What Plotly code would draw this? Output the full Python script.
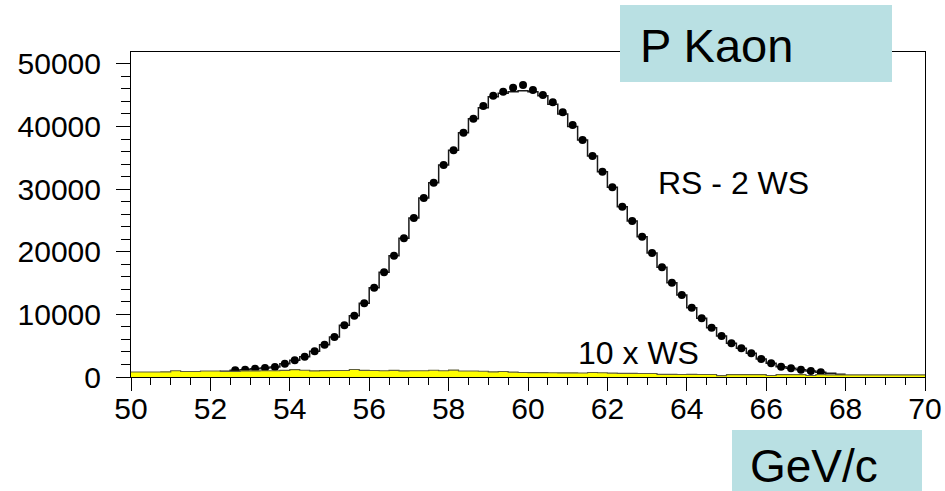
import numpy as np
import plotly.graph_objects as go

# ---- data -------------------------------------------------------------
bin_width = 0.25

# RS - 2 WS: measured points (bins from 52.5 to 67.5 GeV/c)
pts_start = 52.5
rs_points = [
    1065, 1170, 1330, 1440, 1600, 2130,
    2660, 3250, 4100, 5160, 6390, 8250, 9800, 11770,
    14270, 16720, 19380, 22150, 25390, 28590, 31040, 33860,
    36200, 39020, 41260, 43280, 44930, 45570, 46210, 46630,
    45830, 45040, 43870, 42270, 40240, 37850, 35290, 32790,
    30290, 27200, 24910, 22410, 19800, 17510, 15070, 13100,
    11070, 9370, 7880, 6550, 5380, 4580, 3780, 2880,
    2180, 1650, 1380, 1170, 960, 750,
]

# reference histogram drawn as a step line (bins from 52.0 to 68.0 GeV/c)
hist_start = 52.0
rs_hist = [
    700, 900, 1065, 1170, 1330, 1440, 1600, 2130,
    2660, 3250, 4100, 5160, 6390, 8250, 9800, 11770,
    14270, 16720, 19380, 22150, 25390, 28590, 31040, 33860,
    36200, 39020, 41260, 43000, 44770, 45300, 45570, 45730,
    45570, 44930, 43550, 42000, 40000, 37850, 35290, 32790,
    30290, 27200, 24910, 22410, 19800, 17510, 15070, 13100,
    11070, 9370, 7880, 6550, 5380, 4580, 3780, 2880,
    2180, 1650, 1380, 1170, 960, 750, 600, 450,
]

# 10 x WS (bins from 50.0 to 70.0 GeV/c)
ws_start = 50.0
ws10 = [
    800, 800, 800, 820, 1000, 880, 880, 960,
    960, 880, 900, 980, 980, 1000, 1000, 1050,
    1180, 1080, 980, 1020, 1040, 1040, 1200, 1060,
    1040, 1000, 1060, 980, 1000, 1000, 1080, 1000,
    1100, 960, 960, 920, 820, 880, 780, 720,
    700, 700, 680, 660, 660, 640, 720, 680,
    620, 580, 580, 560, 560, 420, 420, 400,
    420, 400, 400, 220, 380, 380, 380, 380,
    240, 380, 380, 380, 240, 380, 330, 330,
    330, 330, 330, 330, 330, 330, 330, 330,
]

x_ticks = [50, 52, 54, 56, 58, 60, 62, 64, 66, 68, 70]
y_ticks = [0, 10000, 20000, 30000, 40000, 50000]


def step_outline(start, values):
    """Bin edges and values for an 'hv' step line covering every bin."""
    edges = start + bin_width * np.arange(len(values) + 1)
    vals = list(values) + [values[-1]]
    return edges, vals


pt_centers = pts_start + bin_width * (np.arange(len(rs_points)) + 0.5)
rs_edges, rs_vals = step_outline(hist_start, rs_hist)
ws_edges, ws_vals = step_outline(ws_start, ws10)

# ---- figure ----------------------------------------------------------
W, H = 945, 491
ML, MR, MT, MB = 131, 20, 52, 114
PW, PH = W - ML - MR, H - MT - MB


def px_to_paper(px, py):
    return (px - ML) / PW, (H - MB - py) / PH


fig = go.Figure()

fig.add_trace(go.Scatter(
    x=rs_edges, y=rs_vals, mode="lines", line_shape="hv",
    line=dict(color="#1a1a1a", width=1.5), hoverinfo="skip",
    showlegend=False,
))
fig.add_trace(go.Scatter(
    x=pt_centers, y=rs_points, mode="markers",
    marker=dict(color="black", size=8), showlegend=False,
))
fig.add_trace(go.Scatter(
    x=ws_edges, y=ws_vals, mode="lines", line_shape="hv",
    fill="tozeroy", fillcolor="#FFFF00",
    line=dict(color="#5f5f3a", width=1.2), showlegend=False,
))

font_family = "Liberation Sans, Arial, sans-serif"

fig.update_xaxes(
    range=[50, 70], tickvals=x_ticks, ticktext=[str(v) for v in x_ticks],
    ticks="outside", ticklen=13, tickwidth=1, tickcolor="black",
    minor=dict(dtick=0.5, tick0=50, ticks="outside", ticklen=7,
               tickcolor="black", tickwidth=1),
    showline=True, linecolor="black", linewidth=1, mirror=True,
    showgrid=False, zeroline=False, ticklabelstandoff=-8,
    automargin=False,
    tickfont=dict(family=font_family, size=30, color="black"),
)
fig.update_yaxes(
    range=[0, 51900], tickvals=y_ticks, ticktext=[str(v) for v in y_ticks],
    ticks="outside", ticklen=14, tickwidth=1, tickcolor="black",
    minor=dict(dtick=2000, tick0=0, ticks="outside", ticklen=9,
               tickcolor="black", tickwidth=1),
    showline=True, linecolor="black", linewidth=1, mirror=True,
    showgrid=False, zeroline=False, ticklabelstandoff=9,
    automargin=False,
    tickfont=dict(family=font_family, size=30, color="black"),
)

box_color = "#B9E0E3"
kx0, ky1 = px_to_paper(620, 5)
kx1, ky0 = px_to_paper(892, 82)
gx0, gy1 = px_to_paper(732, 430)
gx1, gy0 = px_to_paper(922, 500)
for x0, x1, y0, y1 in [(kx0, kx1, ky0, ky1), (gx0, gx1, gy0, gy1)]:
    fig.add_shape(type="rect", xref="paper", yref="paper",
                  x0=x0, x1=x1, y0=y0, y1=y1, layer="above",
                  fillcolor=box_color, line=dict(width=0))

tx, ty = px_to_paper(638, 45)
fig.add_annotation(text="P Kaon", xref="paper", yref="paper", x=tx, y=ty,
                   xanchor="left", yanchor="middle", showarrow=False,
                   height=44, valign="middle",
                   font=dict(family=font_family, size=47, color="black"))
tx, ty = px_to_paper(748, 466)
fig.add_annotation(text="GeV/c", xref="paper", yref="paper", x=tx, y=ty,
                   xanchor="left", yanchor="middle", showarrow=False,
                   height=40, valign="middle",
                   font=dict(family=font_family, size=46, color="black"))

fig.add_annotation(text="RS - 2 WS", x=63.22, y=30980, xanchor="left",
                   yanchor="middle", showarrow=False,
                   font=dict(family=font_family, size=32, color="black"))
fig.add_annotation(text="10 x WS", x=61.2, y=3913, xanchor="left",
                   yanchor="middle", showarrow=False,
                   font=dict(family=font_family, size=32, color="black"))

fig.update_layout(
    width=W, height=H,
    margin=dict(l=ML, r=MR, t=MT, b=MB, pad=0, autoexpand=False),
    paper_bgcolor="white", plot_bgcolor="white",
    showlegend=False,
)

fig.write_html("out.html")
